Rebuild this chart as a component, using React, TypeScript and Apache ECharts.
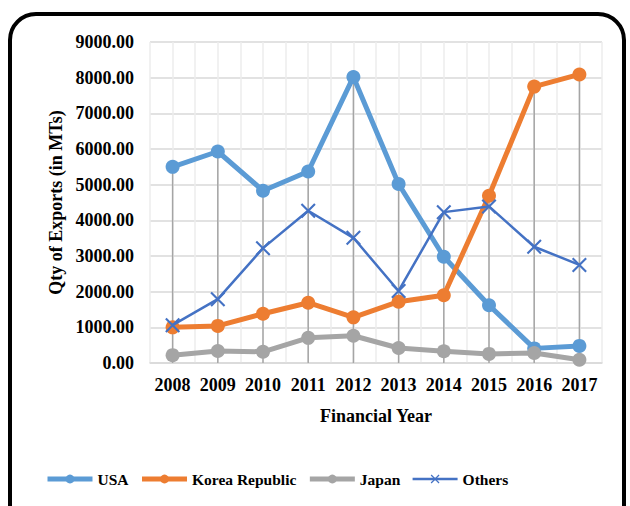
import React, { useEffect, useRef } from "react";
import * as echarts from "echarts";

const years = ["2008", "2009", "2010", "2011", "2012", "2013", "2014", "2015", "2016", "2017"];
const usa = [5500, 5930, 4830, 5370, 8020, 5020, 2980, 1620, 410, 480];
const korea = [1000, 1040, 1380, 1690, 1280, 1720, 1900, 4690, 7750, 8090];
const japan = [220, 335, 315, 705, 765, 420, 330, 255, 280, 90];
const others = [1060, 1790, 3220, 4270, 3510, 2020, 4230, 4390, 3260, 2750];
const yTicks = { min: 0, max: 9000, interval: 1000 };

const FONT = "'Liberation Serif', 'Times New Roman', serif";
const X_SYMBOL = "path://M0,1L1,0L10,9L9,10Z M9,0L10,1L1,10L0,9Z";

export default function App() {
  const ref = useRef<HTMLDivElement>(null);
  useEffect(() => {
    if (!ref.current) return;
    const chart = echarts.init(ref.current, null, { renderer: "svg" });
    const dropData = years.map((_, i) => [i, Math.max(usa[i], korea[i], japan[i], others[i])]);
    const circleSeries = (name: string, data: number[], color: string) => ({
      name,
      type: "line",
      data,
      color,
      symbol: "circle",
      symbolSize: 14,
      lineStyle: { width: 5, color },
      itemStyle: { color },
      z: 3,
    });
    const txt = { fontFamily: FONT, fontWeight: "bold", fontSize: 18, color: "#000" };
    chart.setOption({
      animation: false,
      backgroundColor: "#fff",
      textStyle: { fontFamily: FONT },
      grid: { left: 150, right: 28, top: 42, bottom: 143 },
      graphic: [
        {
          type: "rect",
          shape: { x: 10, y: 14, width: 614, height: 530, r: 26 },
          style: { fill: "none", stroke: "#000", lineWidth: 4 },
          z: 10,
        },
      ],
      legend: {
        data: [
          { name: "USA", lineStyle: { width: 5 } },
          { name: "Korea Republic", lineStyle: { width: 5 } },
          { name: "Japan", lineStyle: { width: 5 } },
          { name: "Others", lineStyle: { width: 2.5 } },
        ],
        top: 466,
        left: 40,
        itemWidth: 45,
        itemHeight: 11,
        itemGap: 11,
        textStyle: { ...txt, fontSize: 15.5 },
      },
      xAxis: [
        {
          type: "category",
          data: years,
          boundaryGap: true,
          axisLine: { lineStyle: { color: "#d9d9d9", width: 1.5 } },
          axisTick: { show: false },
          axisLabel: { ...txt, margin: 13, interval: 0 },
          splitLine: { show: false },
          name: "Financial Year",
          nameLocation: "middle",
          nameGap: 44,
          nameTextStyle: txt,
        },
        {
          type: "value",
          min: 0,
          max: 20,
          interval: 1,
          show: true,
          position: "bottom",
          axisLine: { show: false },
          axisTick: { show: false },
          axisLabel: { show: false },
          splitLine: { show: true, lineStyle: { color: "#ececec", width: 1.5 } },
        },
      ],
      yAxis: {
        type: "value",
        min: yTicks.min,
        max: yTicks.max,
        interval: yTicks.interval,
        axisLine: { show: false },
        axisTick: { show: false },
        axisLabel: {
          ...txt,
          margin: 16,
          formatter: (v: number) => v.toFixed(2),
        },
        splitLine: { lineStyle: { color: "#d9d9d9", width: 1.5 } },
        name: "Qty of Exports (in MTs)",
        nameLocation: "middle",
        nameRotate: 90,
        nameGap: 84,
        nameTextStyle: txt,
      },
      series: [
        {
          type: "custom",
          name: "drop",
          xAxisIndex: 0,
          data: dropData,
          z: 1,
          renderItem: (_params: any, api: any) => {
            const i = api.value(0);
            const hi = api.value(1);
            const a = api.coord([i, hi]);
            const b = api.coord([i, 0]);
            return {
              type: "line",
              shape: { x1: a[0], y1: a[1], x2: b[0], y2: b[1] },
              style: { stroke: "#a5a5a5", lineWidth: 1.5 },
            };
          },
        },
        circleSeries("USA", usa, "#5B9BD5"),
        circleSeries("Korea Republic", korea, "#ED7D31"),
        circleSeries("Japan", japan, "#A5A5A5"),
        {
          name: "Others",
          type: "line",
          data: others,
          color: "#4472C4",
          symbol: X_SYMBOL,
          symbolSize: 15,
          lineStyle: { width: 2.5, color: "#4472C4" },
          itemStyle: { color: "#4472C4" },
          z: 4,
        },
      ],
    });
    return () => chart.dispose();
  }, []);
  return (
    <div
      ref={ref}
      style={{ position: "fixed", left: 0, top: 0, width: 630, height: 506 }}
    />
  );
}
